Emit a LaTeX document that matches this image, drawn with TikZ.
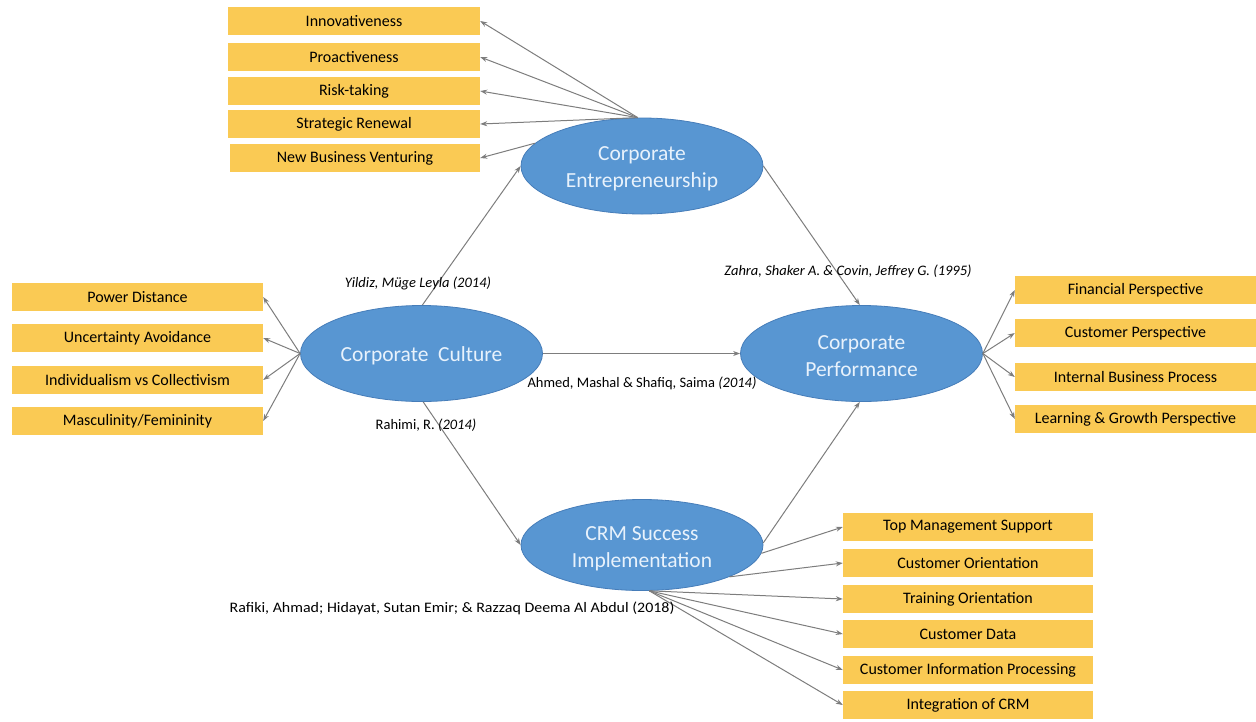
\documentclass[tikz,border=0pt]{standalone}
\usepackage{fontspec}
\setmainfont{Carlito}
\usetikzlibrary{shapes.geometric,arrows.meta}
\definecolor{boxy}{RGB}{250,202,84}
\definecolor{ellb}{RGB}{88,150,210}
\definecolor{ellbd}{RGB}{70,125,185}
\definecolor{arr}{RGB}{125,125,125}
\definecolor{elltxt}{RGB}{232,242,252}
\tikzset{
 box/.style={fill=boxy, minimum height=28pt, inner sep=0pt, font=\fontsize{16}{18}\selectfont},
 ell/.style={ellipse, fill=ellb, draw=ellbd, line width=0.8pt, text=elltxt, minimum width=242pt, minimum height=96pt, inner sep=0pt, align=center, font=\fontsize{21.5}{27}\selectfont},
 con/.style={draw=arr, line width=1pt, -{Stealth[length=7pt,width=5pt]}},
 lab/.style={font=\fontsize{14.5}{16}\selectfont, inner sep=0pt}
}
\begin{document}
\begin{tikzpicture}[x=1pt,y=-1pt]
\useasboundingbox (0,0) rectangle (1256,721);
% ellipses
\node[ell] (ce) at (642,166) {};
\node[ell] (cc) at (421.5,353.5) {};
\node[ell] (cp) at (861.5,353.5) {};
\node[ell, minimum height=91pt] (crm) at (642,545) {};
\node[ell, fill=none, draw=none] (cet) at (642,169) {Corporate\\Entrepreneurship};
\node[ell, fill=none, draw=none] (cct) at (421.5,356) {Corporate\ \ Culture};
\node[ell, fill=none, draw=none] (cpt) at (861.5,356.5) {Corporate\\Performance};
\node[ell, fill=none, draw=none, minimum height=91pt] (crmt) at (642,548.5) {CRM Success\\Implementation};
% top boxes
\node[box, minimum width=252pt] (b1) at (354,21) {Innovativeness};
\node[box, minimum width=252pt] (b2) at (354,57) {Proactiveness};
\node[box, minimum width=252pt] (b3) at (354,91) {Risk-taking};
\node[box, minimum width=252pt] (b4) at (354,124) {Strategic Renewal};
\node[box, minimum width=250pt] (b5) at (355,158) {New Business Venturing};
% left boxes
\node[box, minimum width=251pt] (l1) at (137.5,297) {Power Distance};
\node[box, minimum width=251pt] (l2) at (137.5,338) {Uncertainty Avoidance};
\node[box, minimum width=251pt] (l3) at (137.5,380) {Individualism vs Collectivism};
\node[box, minimum width=251pt] (l4) at (137.5,421) {Masculinity/Femininity};
% right boxes
\node[box, minimum width=241pt] (r1) at (1135.5,290) {Financial Perspective};
\node[box, minimum width=241pt] (r2) at (1135.5,333) {Customer Perspective};
\node[box, minimum width=241pt] (r3) at (1135.5,377) {Internal Business Process};
\node[box, minimum width=241pt] (r4) at (1135.5,419) {Learning \& Growth Perspective};
% crm boxes
\node[box, minimum width=250pt] (c1) at (968,527) {Top Management Support};
\node[box, minimum width=250pt] (c2) at (968,563) {Customer Orientation};
\node[box, minimum width=250pt] (c3) at (968,599) {Training Orientation};
\node[box, minimum width=250pt] (c4) at (968,634) {Customer Data};
\node[box, minimum width=250pt] (c5) at (968,670) {Customer Information Processing};
\node[box, minimum width=250pt] (c6) at (968,705) {Integration of CRM};
% start points
\coordinate (ceTop) at (ce.95);
\coordinate (crmBot) at (crm.-81);
% connectors CE
\draw[con] (ceTop) -- (b1.east);
\draw[con] (ceTop) -- (b2.east);
\draw[con] (ceTop) -- (b3.east);
\draw[con] (ceTop) -- (b4.east);
\draw[con] (ce.168) -- (b5.east);
% CC
\draw[con] (cc.west) -- (l1.east);
\draw[con] (cc.west) -- (l2.east);
\draw[con] (cc.west) -- (l3.east);
\draw[con] (cc.west) -- (l4.east);
% CP
\draw[con] (cp.east) -- (r1.west);
\draw[con] (cp.east) -- (r2.west);
\draw[con] (cp.east) -- (r3.west);
\draw[con] (cp.east) -- (r4.west);
% CRM
\draw[con] (crm.-4) -- (c1.west);
\draw[con] (crm.-20) -- (c2.west);
\draw[con] (crmBot) -- (c3.west);
\draw[con] (crmBot) -- (c4.west);
\draw[con] (crmBot) -- (c5.west);
\draw[con] (crmBot) -- (c6.west);
% main links
\draw[con] (cc.89) -- (ce.west);
\draw[con] (cc.-88) -- (crm.west);
\draw[con] (cc.east) -- (cp.west);
\draw[con] (ce.east) -- (cp.92);
\draw[con] (crm.1) -- (cp.-92);
% labels
\node[lab] (t1) at (418,283) {\itshape Yildiz, Müge Leyla (2014)};
\node[lab] (t2) at (848,271) {\itshape Zahra, Shaker A. \& Covin, Jeffrey G. (1995)};
\node[lab] (t3) at (642,383) {Ahmed, Mashal \& Shafiq, Saima \textit{(2014)}};
\node[lab] (t4) at (426,425) {Rahimi, R. \textit{(2014)}};
\node[lab, xscale=1.1] (t5) at (452,608) {Rafiki, Ahmad; Hidayat, Sutan Emir; \& Razzaq Deema Al Abdul (2018)};
\end{tikzpicture}
\end{document}
